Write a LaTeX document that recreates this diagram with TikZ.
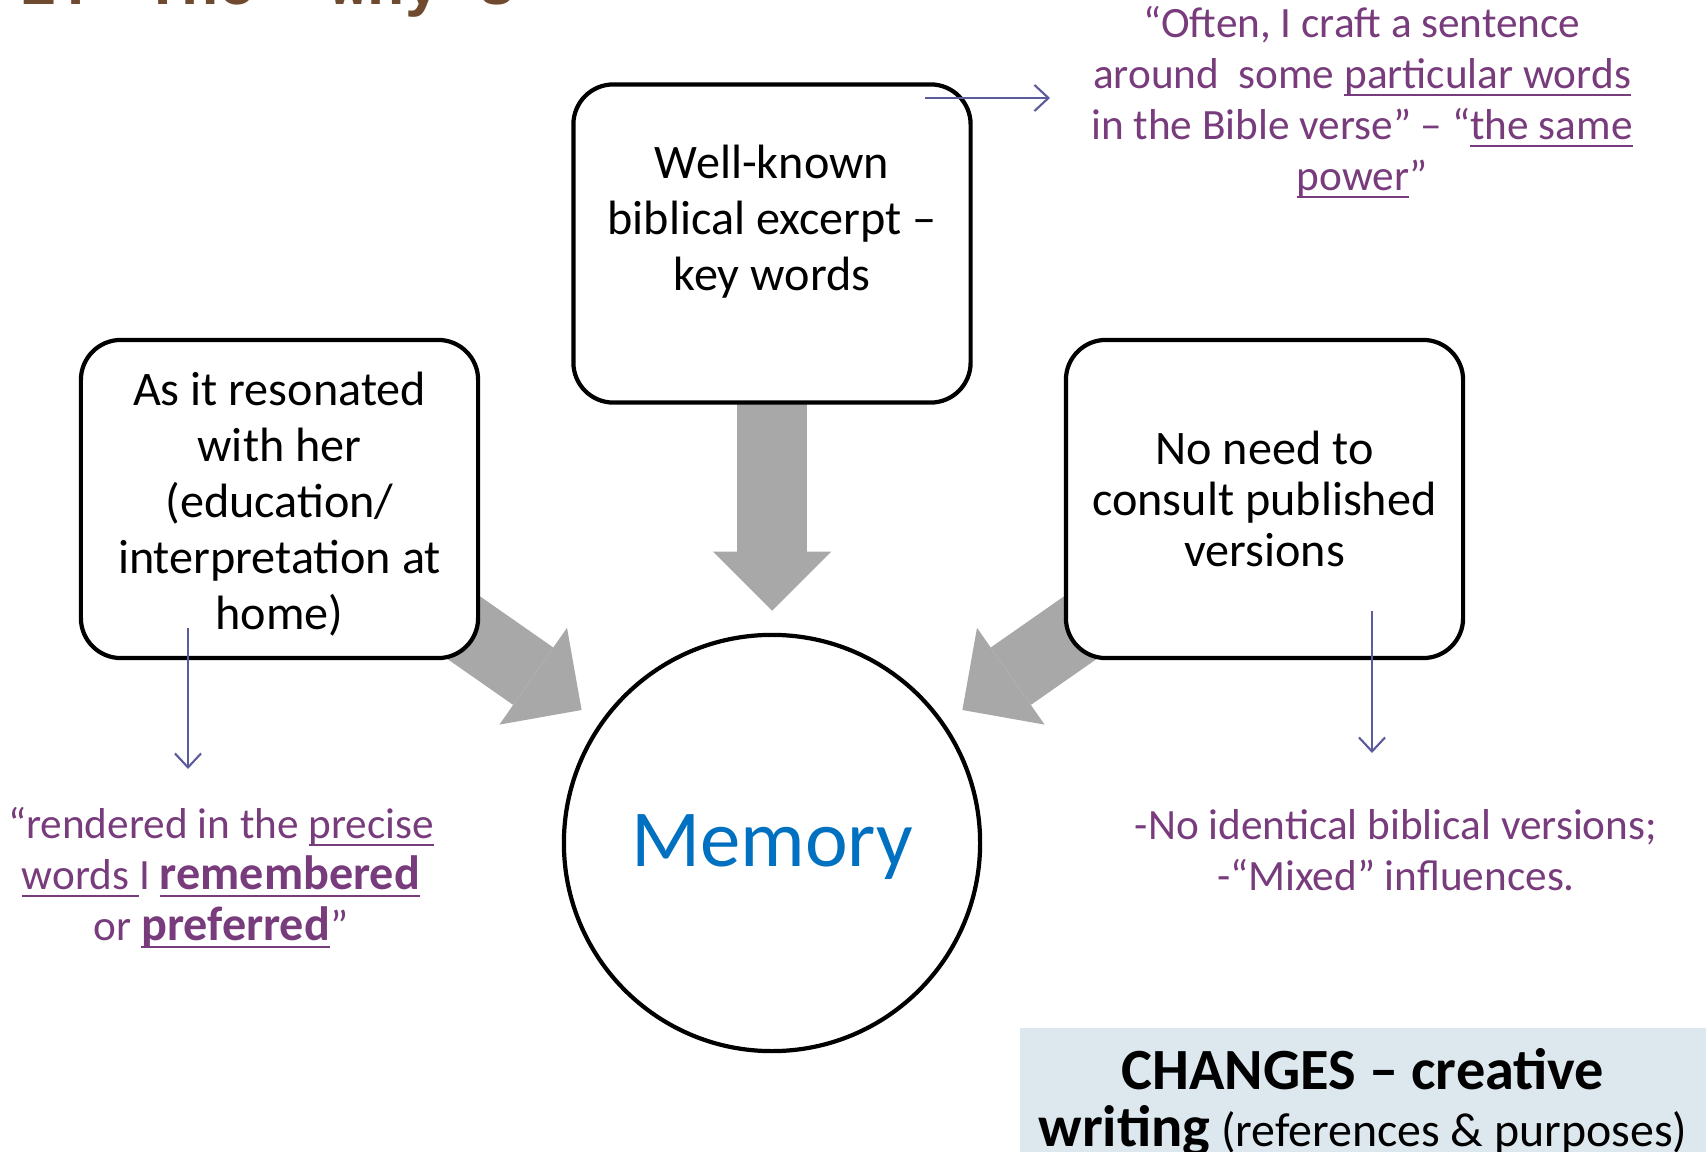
\documentclass[tikz,border=0pt]{standalone}
\usepackage{fontspec}
\setmainfont{Carlito}
\newfontfamily\titlefont{Liberation Mono}
\usepackage{tikz}
\usetikzlibrary{arrows.meta,backgrounds}
\usepackage{xcolor}
\definecolor{notepurple}{RGB}{120,60,125}
\definecolor{noteline}{RGB}{90,92,156}
\definecolor{blockgray}{RGB}{168,168,168}
\definecolor{memblue}{RGB}{0,112,192}
\definecolor{changesbg}{RGB}{221,231,238}
\definecolor{titlebrown}{RGB}{111,74,46}
\newsavebox{\undlbox}
\newcommand{\undl}[1]{\leavevmode\sbox{\undlbox}{#1}\rlap{\rule[-2.2pt]{\wd\undlbox}{0.6pt}}\usebox{\undlbox}}
\newcommand{\notebold}[1]{{\fontsize{13.7}{14.5}\selectfont\bfseries #1}}

\begin{document}
\begin{tikzpicture}[x=0.01cm,y=-0.01cm,>={Straight Barb[length=1.4mm,width=2.6mm]}]
\tikzstyle{reason}=[draw,line width=1.2pt,fill=white,rounded corners=0.4cm,minimum width=3.97cm,minimum height=3.18cm,align=center,inner sep=0pt,font=\fontsize{13.7}{15.9}\selectfont]
\tikzstyle{memory}=[circle,draw,line width=1.2pt,fill=white,minimum size=4.16cm,inner sep=0pt,text=memblue,font=\fontsize{23}{27}\selectfont,text height=18pt,text depth=4.8pt]
\tikzstyle{note}=[align=center,inner sep=0pt,text=notepurple,font=\fontsize{12.3}{14.5}\selectfont]
\tikzstyle{flow}=[draw=blockgray,line width=0.7cm,-{Triangle[width=1.18cm,length=0.59cm,line width=0pt]},shorten >=0.22cm]
\tikzstyle{pointer}=[draw=noteline,line width=0.6pt,->]
  \useasboundingbox (0,0) rectangle (1706,1152);
  \node[anchor=base west,inner sep=0pt,text=titlebrown,font=\titlefont\bfseries\fontsize{17.6}{20}\selectfont](title) at (20,5){2. The “why’s”};
  % the three reasons and the centre
  \node[reason](top) at (772,243.5){Well-known\\biblical excerpt –\\key words\rule[-14.5pt]{0pt}{14.5pt}};
  \node[reason](left) at (279.5,499){\rule{0pt}{12.6pt}As it resonated\\with her\\(education/\\interpretation at\\home)};
  \node[reason,font=\fontsize{13.7}{14.4}\selectfont](right) at (1264.5,499){No need to\\consult published\\versions};
  \node[memory](mem) at (772,843){Memory};
  \begin{scope}[on background layer]
    \draw[flow](top.center)--(mem);
    \draw[flow](left.center)--(mem);
    \draw[flow](right.center)--(mem);
  \end{scope}
  % quotes
  \node[note](verse-note) at (1362,102.5){“Often, I craft a sentence\\around~~some \undl{particular words}\\in the Bible verse” – “\undl{the same}\\\undl{power}”};
  \node[note](precise-note) at (221,878){“rendered in the \undl{precise}\\\undl{words }I \undl{\notebold{remembered}}\\or \undl{\notebold{preferred}}”};
  \node[note](mixed-note) at (1396,850){-No identical biblical versions;\\-“Mixed” influences.};
  \coordinate (top-out) at (925,98);
  \coordinate (top-end) at (1050,98);
  \coordinate (left-out) at (188,628);
  \coordinate (left-end) at (188,769);
  \coordinate (right-out) at (1372,611);
  \coordinate (right-end) at (1372,753);
  \draw[pointer](top-out)--(top-end);
  \draw[pointer](left-out)--(left-end);
  \draw[pointer](right-out)--(right-end);
  \node[anchor=north,fill=changesbg,minimum width=6.86cm,inner xsep=0pt,inner ysep=0.21cm,align=center,font=\fontsize{13.6}{16.2}\selectfont](changes) at (1363,1027){{\fontsize{16.6}{16.2}\selectfont\bfseries CHANGES – creative}\\{\fontsize{16.6}{16.2}\selectfont\bfseries writing} (references \& purposes)};
\end{tikzpicture}
\end{document}
